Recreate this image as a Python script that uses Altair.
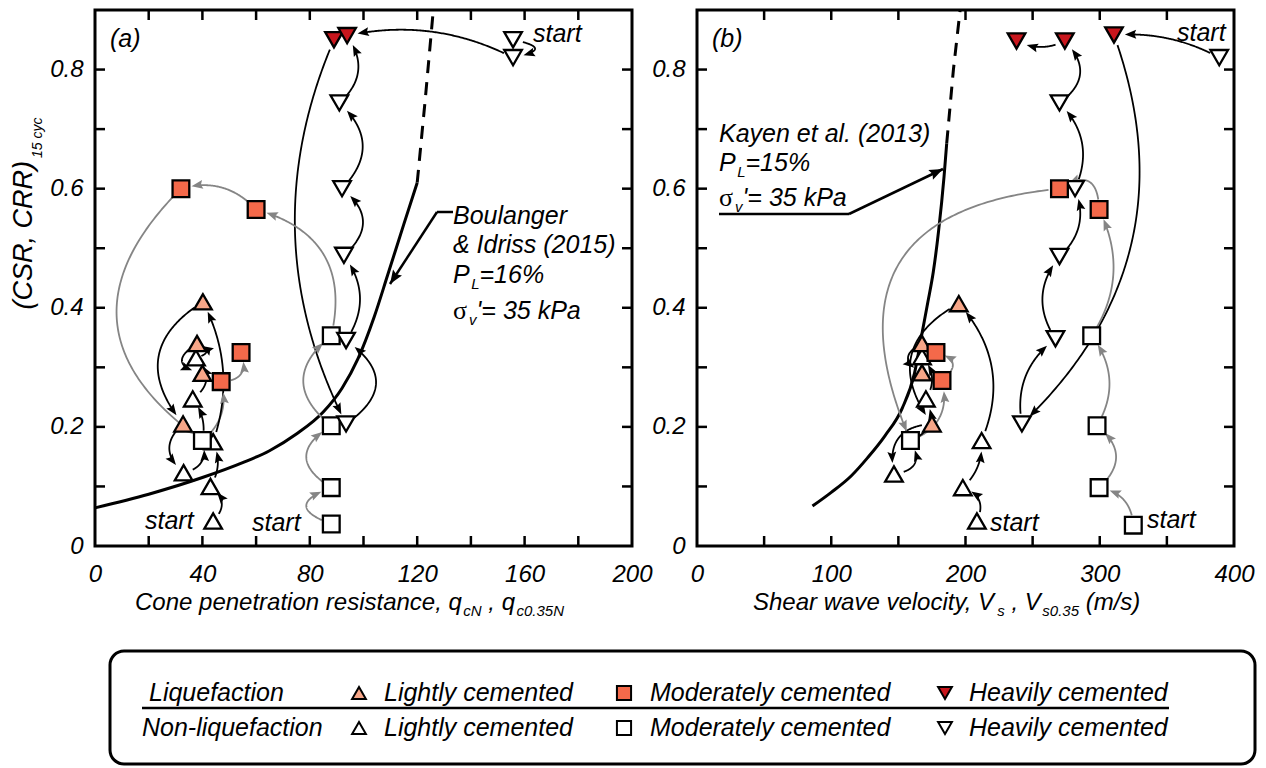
import altair as alt
import numpy as np
import pandas as pd

FONT = "Liberation Sans"
W, H = 537, 536
YMAX = 0.9
FS = 25

# ---------------- panel (a): cone penetration resistance ----------------
a_liq_light_x = [40.2, 38.0, 40.0, 32.8]
a_liq_light_y = [0.410, 0.340, 0.290, 0.205]
a_non_light_x = [37.6, 36.4, 33.0, 43.0, 44.0, 44.0]
a_non_light_y = [0.316, 0.247, 0.123, 0.100, 0.042, 0.175]
a_liq_mod_x = [32.0, 60.0, 54.4, 47.0]
a_liq_mod_y = [0.600, 0.565, 0.325, 0.276]
a_non_mod_x = [40.0, 88.0, 88.0, 88.0, 88.0]
a_non_mod_y = [0.177, 0.353, 0.202, 0.098, 0.037]
a_liq_heavy_x = [89.0, 93.9]
a_liq_heavy_y = [0.850, 0.857]
a_non_heavy_x = [155.7, 155.7, 91.0, 92.0, 92.7, 93.5, 93.5]
a_non_heavy_y = [0.850, 0.820, 0.744, 0.600, 0.488, 0.345, 0.205]

# Boulanger & Idriss (2015) curve
bi_x = [0, 20, 40, 55, 65, 75, 85, 92, 98, 104, 109, 115, 120]
bi_y = [0.064, 0.087, 0.115, 0.140, 0.160, 0.188, 0.225, 0.265, 0.315, 0.385, 0.455, 0.54, 0.61]
bi_dash_x = [120, 123, 126]
bi_dash_y = [0.61, 0.75, 0.90]

# stress-path arrows: x0, y0, x1, y1, bend(px), colour
a_arrows = [
    (155.7, 0.850, 155.7, 0.820, -22, 'k'),
    (155.7, 0.820, 93.9, 0.857, 15, 'k'),
    (89.0, 0.850, 93.5, 0.205, 45, 'k'),
    (93.5, 0.205, 93.5, 0.345, 30, 'k'),
    (93.5, 0.345, 92.7, 0.488, 15, 'k'),
    (92.7, 0.488, 92.0, 0.600, 20, 'k'),
    (92.0, 0.600, 91.0, 0.744, 22, 'k'),
    (91.0, 0.744, 93.9, 0.857, 15, 'k'),
    (88.0, 0.037, 88.0, 0.098, -25, 'g'),
    (88.0, 0.098, 88.0, 0.202, -25, 'g'),
    (88.0, 0.202, 88.0, 0.353, -28, 'g'),
    (88.0, 0.353, 60.0, 0.565, 35, 'g'),
    (60.0, 0.565, 32.0, 0.600, 12, 'g'),
    (32.0, 0.600, 40.0, 0.177, 75, 'g'),
    (40.0, 0.177, 47.0, 0.276, 10, 'g'),
    (47.0, 0.276, 54.4, 0.325, 12, 'g'),
    (44.0, 0.042, 43.0, 0.100, 10, 'k'),
    (43.0, 0.100, 44.0, 0.175, 6, 'k'),
    (44.0, 0.175, 40.2, 0.410, 15, 'k'),
    (40.2, 0.410, 32.8, 0.205, 35, 'k'),
    (32.8, 0.205, 33.0, 0.123, 14, 'k'),
    (33.0, 0.123, 40.0, 0.177, 10, 'k'),
    (40.0, 0.177, 36.4, 0.247, 5, 'k'),
    (36.4, 0.247, 37.6, 0.316, 12, 'k'),
    (37.6, 0.316, 38.0, 0.340, 10, 'k'),
    (38.0, 0.340, 40.0, 0.290, 18, 'k'),
]

# ---------------- panel (b): shear wave velocity ----------------
b_liq_light_x = [195.0, 167.6, 167.6, 175.0]
b_liq_light_y = [0.407, 0.340, 0.291, 0.205]
b_non_light_x = [167.6, 170.5, 146.7, 198.0, 212.0, 208.5]
b_non_light_y = [0.318, 0.247, 0.121, 0.098, 0.177, 0.042]
b_liq_mod_x = [270.0, 299.5, 178.0, 182.5]
b_liq_mod_y = [0.600, 0.565, 0.325, 0.278]
b_non_mod_x = [159.0, 294.0, 298.0, 299.5, 325.0]
b_non_mod_y = [0.177, 0.353, 0.202, 0.098, 0.035]
b_liq_heavy_x = [238.0, 274.0, 310.6]
b_liq_heavy_y = [0.848, 0.848, 0.858]
b_non_heavy_x = [389.0, 270.0, 281.6, 270.0, 267.0, 242.0]
b_non_heavy_y = [0.820, 0.744, 0.600, 0.486, 0.348, 0.205]

# Kayen et al. (2013) curve
ky_x = [86, 100, 115, 127, 140, 153, 162, 168, 172, 176, 180, 184, 186]
ky_y = [0.067, 0.09, 0.118, 0.148, 0.185, 0.232, 0.29, 0.362, 0.41, 0.46, 0.53, 0.62, 0.676]
ky_dash_x = [186, 191, 196]
ky_dash_y = [0.676, 0.80, 0.90]

b_arrows = [
    (389.0, 0.820, 310.6, 0.858, 8, 'k'),
    (310.6, 0.858, 242.0, 0.205, -65, 'k'),
    (242.0, 0.205, 267.0, 0.348, -14, 'k'),
    (267.0, 0.348, 270.0, 0.486, -15, 'k'),
    (270.0, 0.486, 281.6, 0.600, 12, 'k'),
    (281.6, 0.600, 270.0, 0.744, 15, 'k'),
    (270.0, 0.744, 274.0, 0.848, 18, 'k'),
    (274.0, 0.848, 238.0, 0.848, -6, 'k'),
    (325.0, 0.035, 299.5, 0.098, 10, 'g'),
    (299.5, 0.098, 298.0, 0.202, 18, 'g'),
    (298.0, 0.202, 294.0, 0.353, 15, 'g'),
    (294.0, 0.353, 299.5, 0.565, 18, 'g'),
    (299.5, 0.565, 270.0, 0.600, 20, 'g'),
    (270.0, 0.600, 159.0, 0.177, 100, 'g'),
    (159.0, 0.177, 182.5, 0.278, 15, 'g'),
    (182.5, 0.278, 178.0, 0.325, 14, 'g'),
    (208.5, 0.042, 198.0, 0.098, 10, 'k'),
    (198.0, 0.098, 212.0, 0.177, 6, 'k'),
    (212.0, 0.177, 195.0, 0.407, 22, 'k'),
    (195.0, 0.407, 175.0, 0.205, 35, 'k'),
    (175.0, 0.205, 146.7, 0.121, 18, 'k'),
    (146.7, 0.121, 159.0, 0.177, 14, 'k'),
    (159.0, 0.177, 170.5, 0.247, 12, 'k'),
    (170.5, 0.247, 167.6, 0.318, 8, 'k'),
    (167.6, 0.318, 167.6, 0.340, 12, 'k'),
    (167.6, 0.340, 167.6, 0.291, 14, 'k'),
]

legend_groups = ["Liquefaction", "Non-liquefaction"]
legend_classes = ["Lightly cemented", "Moderately cemented", "Heavily cemented"]

C_LIGHT = "#F7A688"
C_MOD = "#F4694A"
C_HEAVY = "#C8161D"
ARROW_COL = {'k': '#000000', 'g': '#858585'}

# ---------------- helpers ----------------
AW = {' ': 278, '!': 278, '%': 889, '&': 667, "'": 191, '(': 333, ')': 333, ',': 278, '-': 333,
      '.': 278, '/': 278, '=': 584}
for ch in '0123456789':
    AW[ch] = 556
AW.update(dict(zip('ABCDEFGHIJKLMNOPQRSTUVWXYZ',
                   [667, 667, 722, 722, 667, 611, 778, 722, 278, 500, 667, 556, 833, 722, 778, 667,
                    778, 722, 667, 611, 722, 667, 944, 667, 667, 611])))
AW.update(dict(zip('abcdefghijklmnopqrstuvwxyz',
                   [556, 556, 500, 556, 556, 278, 556, 556, 222, 222, 500, 222, 833, 556, 556, 556,
                    556, 333, 500, 278, 556, 500, 722, 500, 500, 500])))


def tw(s, size):
    return sum(AW.get(c, 556) for c in s) / 1000.0 * size


DUMMY = pd.DataFrame({'d': [0]})


def txt(s, x, y, size=FS, align='left', angle=0, font=FONT, style='italic'):
    kw = dict(text=s, fontSize=size, font=font, fontStyle=style, align=align,
              baseline='alphabetic', color='black')
    if angle:
        kw['angle'] = angle
    return alt.Chart(DUMMY).mark_text(**kw).encode(x=alt.value(x), y=alt.value(y))


def rich(parts, x, y, size=FS, sub=15, shift=6):
    out = []
    cx = x
    for s, k in parts:
        sz = size if k == 'n' else (sub if k == 's' else size + 1)
        lead = len(s) - len(s.lstrip(' '))
        body = s.strip(' ')
        bx = cx + lead * 0.278 * sz
        if k == 'n':
            out.append(txt(body, bx, y, sz))
            cx += tw(s, sz)
        elif k == 's':
            out.append(txt(body, bx + 1.5, y + shift, sz))
            cx += tw(s, sz) + 1.5
        else:
            out.append(txt(body, bx, y, sz, font='Liberation Serif', style='normal'))
            cx += 0.56 * sz
    return out


HEAD_PATH = "M0,-1L0.72,0.85L0,0.55L-0.72,0.85Z"
HEAD_SIZE = 150


def head_at(tip, direction, size):
    u = np.asarray(direction, float)
    u = u / np.hypot(*u)
    r = np.sqrt(size) / 2
    c = np.asarray(tip, float) - u * r
    ang = float(np.degrees(np.arctan2(u[0], -u[1])) % 360)
    return c, ang


def arrow_frames(arrows, xmax):
    def px(v):
        return v / xmax * W

    def py(v):
        return H - v / YMAX * H
    lines, heads = [], []
    hs = HEAD_SIZE
    for k, (x0, y0, x1, y1, bend, col) in enumerate(arrows):
        p0 = np.array([px(x0), py(y0)])
        p1 = np.array([px(x1), py(y1)])
        d = p1 - p0
        L = np.hypot(*d)
        u = d / L
        nrm = np.array([-u[1], u[0]])
        c = (p0 + p1) / 2 + nrm * 2 * bend
        t = np.linspace(0, 1, 400)[:, None]
        pts = (1 - t) ** 2 * p0 + 2 * (1 - t) * t * c + t ** 2 * p1
        s = np.concatenate([[0], np.cumsum(np.hypot(*np.diff(pts, axis=0).T))])
        tot = s[-1]
        s0 = min(10.0, tot * 0.22)
        s_tip = tot - min(11.0, tot * 0.22)
        i_tip = int(np.searchsorted(s, s_tip))
        i_tip = max(4, min(i_tip, len(pts) - 1))
        tip = pts[i_tip]
        tang = pts[i_tip] - pts[i_tip - 4]
        center, ang = head_at(tip, tang, hs)
        s_end = s_tip - np.sqrt(hs) / 2
        sel = np.where((s >= s0) & (s <= s_end))[0][::3]
        for j, i in enumerate(sel):
            lines.append(dict(id=k, o=j, x=pts[i][0] / W * xmax,
                              y=(H - pts[i][1]) / H * YMAX, col=ARROW_COL[col]))
        heads.append(dict(id=k, x=center[0] / W * xmax, y=(H - center[1]) / H * YMAX,
                          ang=ang, col=ARROW_COL[col]))
    return pd.DataFrame(lines), pd.DataFrame(heads)


def leader(points, size=220):
    layers = []
    for (xa, ya), (xb, yb) in zip(points[:-1], points[1:]):
        layers.append(alt.Chart(DUMMY).mark_rule(color='black', strokeWidth=2.5).encode(
            x=alt.value(xa), y=alt.value(ya), x2=alt.value(xb), y2=alt.value(yb)))
    (xa, ya), (xb, yb) = points[-2], points[-1]
    c, ang = head_at((xb, yb), (xb - xa, yb - ya), size)
    layers.append(alt.Chart(DUMMY).mark_point(shape=HEAD_PATH, filled=True, size=size, color='black',
                                              opacity=1, angle=ang).encode(
        x=alt.value(float(c[0])), y=alt.value(float(c[1]))))
    return layers


def panel(xmax, xstep, xlabels, series, solid, dashed, arrows, extra):
    X = alt.X('x:Q', scale=alt.Scale(domain=[0, xmax], nice=False, zero=False),
              axis=alt.Axis(values=xlabels, title=None, labelPadding=16, labelFlush=False,
                            labelOverlap=False, format='d'))
    Y = alt.Y('y:Q', scale=alt.Scale(domain=[0, YMAX], nice=False, zero=False),
              axis=alt.Axis(values=[0, 0.2, 0.4, 0.6, 0.8], title=None, labelPadding=12,
                            labelExpr="datum.value == 0 ? '0' : format(datum.value, '.1f')"))
    layers = []
    xt = pd.DataFrame({'x': list(np.arange(xstep, xmax, xstep))})
    yt = pd.DataFrame({'y': [0.1, 0.2, 0.3, 0.4, 0.5, 0.6, 0.7, 0.8]})
    rk = dict(color='black', strokeWidth=2.5)
    layers.append(alt.Chart(xt).mark_rule(**rk).encode(x=X, y=alt.value(H), y2=alt.value(H - 10)))
    layers.append(alt.Chart(xt).mark_rule(**rk).encode(x=X, y=alt.value(0), y2=alt.value(10)))
    layers.append(alt.Chart(yt).mark_rule(**rk).encode(y=Y, x=alt.value(0), x2=alt.value(10)))
    layers.append(alt.Chart(yt).mark_rule(**rk).encode(y=Y, x=alt.value(W), x2=alt.value(W - 10)))
    # criterion curve
    sx, sy = solid
    dxv, dyv = dashed
    layers.append(alt.Chart(pd.DataFrame({'x': sx, 'y': sy})).mark_line(
        color='black', strokeWidth=3, interpolate='monotone').encode(x=X, y=Y))
    layers.append(alt.Chart(pd.DataFrame({'x': dxv, 'y': dyv})).mark_line(
        color='black', strokeWidth=3, strokeDash=[13, 9]).encode(x=X, y=Y))
    # arrows
    ldf, hdf = arrow_frames(arrows, xmax)
    layers.append(alt.Chart(ldf).mark_line(strokeWidth=1.8).encode(
        x=X, y=Y, detail='id:N', order='o:Q', color=alt.Color('col:N', scale=None)))
    layers.append(alt.Chart(hdf).mark_point(shape=HEAD_PATH, filled=True, size=HEAD_SIZE, opacity=1).encode(
        x=X, y=Y, color=alt.Color('col:N', scale=None), angle=alt.Angle('ang:Q', scale=None)))
    # markers
    for xs, ys, shape, fill, size in series:
        layers.append(alt.Chart(pd.DataFrame({'x': xs, 'y': ys})).mark_point(
            shape=shape, filled=True, fill=fill, stroke='black', strokeWidth=2.3,
            size=size, opacity=1).encode(x=X, y=Y))
    layers += extra
    return alt.layer(*layers).properties(width=W, height=H)


TRI = 310
SQ = 280

# ---------- annotation / text layers for panel (a) ----------
a_extra = []
a_extra.append(txt("(a)", 15, 37))
a_extra += leader([(358, 202), (342, 202), (295, 274)])
a_extra.append(txt("Boulanger", 358, 214))
a_extra.append(txt("& Idriss (2015)", 358, 243))
a_extra += rich([("P", 'n'), ("L", 's'), ("=16%", 'n')], 358, 273)
a_extra += rich([("σ", 'g'), ("v", 's'), ("'= 35 kPa", 'n')], 358, 309)
a_extra.append(txt("start", 438, 32))
a_extra.append(txt("start", 50, 519))
a_extra.append(txt("start", 157, 521))
# y title
a_extra.append(txt("(CSR, CRR)", -63, 151, size=27, align='right', angle=270))
a_extra.append(txt("15 cyc", -53, 148, size=14, align='left', angle=270))
# x title
a_extra += rich([("Cone penetration resistance, q", 'n'), ("cN", 's'), (" , q", 'n'), ("c0.35N", 's')],
                40, 600, size=24)

# legend (drawn in panel (a) coordinates)
LG = []
LG.append(alt.Chart(DUMMY).mark_rect(fill='transparent', stroke='black', strokeWidth=3,
                                     cornerRadius=14).encode(
    x=alt.value(15), x2=alt.value(1160), y=alt.value(641), y2=alt.value(754)))
LG.append(alt.Chart(DUMMY).mark_rule(color='black', strokeWidth=2.5).encode(
    x=alt.value(47), x2=alt.value(1074), y=alt.value(698), y2=alt.value(698)))
LG.append(txt(legend_groups[0], 54, 691))
LG.append(txt(legend_groups[1], 47, 726))
col_marker = [264, 529, 850]
col_text = [289, 555, 874]
shapes = ["triangle-up", "square", "triangle-down"]
fills_liq = [C_LIGHT, C_MOD, C_HEAVY]
for i, name in enumerate(legend_classes):
    for r, (yy, fill) in enumerate([(683, fills_liq[i]), (718, 'white')]):
        LG.append(alt.Chart(DUMMY).mark_point(shape=shapes[i], filled=True, fill=fill, stroke='black',
                                              strokeWidth=2, size=190 if i != 1 else 200,
                                              opacity=1).encode(
            x=alt.value(col_marker[i]), y=alt.value(yy)))
        LG.append(txt(name, col_text[i], 691 if r == 0 else 726))
a_extra += LG

a_series = [
    (a_non_light_x, a_non_light_y, "triangle-up", "white", TRI),
    (a_non_mod_x, a_non_mod_y, "square", "white", SQ),
    (a_non_heavy_x, a_non_heavy_y, "triangle-down", "white", TRI),
    (a_liq_light_x, a_liq_light_y, "triangle-up", C_LIGHT, TRI),
    (a_liq_mod_x, a_liq_mod_y, "square", C_MOD, SQ),
    (a_liq_heavy_x, a_liq_heavy_y, "triangle-down", C_HEAVY, TRI),
]
pa = panel(200, 20, [0, 40, 80, 120, 160, 200], a_series, (bi_x, bi_y), (bi_dash_x, bi_dash_y),
           a_arrows, a_extra)

# ---------- panel (b) ----------
b_extra = []
b_extra.append(txt("(b)", 15, 37))
b_extra += leader([(22, 204), (152, 204), (246, 159)])
b_extra.append(txt("Kayen et al. (2013)", 22, 132))
b_extra += rich([("P", 'n'), ("L", 's'), ("=15%", 'n')], 22, 161)
b_extra += rich([("σ", 'g'), ("v", 's'), ("'= 35 kPa", 'n')], 22, 196)
b_extra.append(txt("start", 480, 31))
b_extra.append(txt("start", 293, 521))
b_extra.append(txt("start", 450, 518))
b_extra += rich([("Shear wave velocity, V", 'n'), ("s", 's'), (" , V", 'n'), ("s0.35", 's'),
                 (" (m/s)", 'n')], 56, 600, size=24)

b_series = [
    (b_non_light_x, b_non_light_y, "triangle-up", "white", TRI),
    (b_non_mod_x, b_non_mod_y, "square", "white", SQ),
    (b_non_heavy_x, b_non_heavy_y, "triangle-down", "white", TRI),
    (b_liq_light_x, b_liq_light_y, "triangle-up", C_LIGHT, TRI),
    (b_liq_mod_x, b_liq_mod_y, "square", C_MOD, SQ),
    (b_liq_heavy_x, b_liq_heavy_y, "triangle-down", C_HEAVY, TRI),
]
pb = panel(400, 50, [0, 100, 200, 300, 400], b_series, (ky_x, ky_y), (ky_dash_x, ky_dash_y),
           b_arrows, b_extra)

chart = alt.hconcat(pa, pb, spacing=65, bounds='flush').configure_view(
    stroke='black', strokeWidth=3
).configure_axis(
    labelFont=FONT, labelFontStyle='italic', labelFontSize=24, labelColor='black',
    ticks=False, domain=False, grid=False
).properties(
    padding={"left": 8, "top": 2, "right": 4, "bottom": 1}, background='white'
)

chart.save("out.html", embed_options={"renderer": "svg", "actions": False})
